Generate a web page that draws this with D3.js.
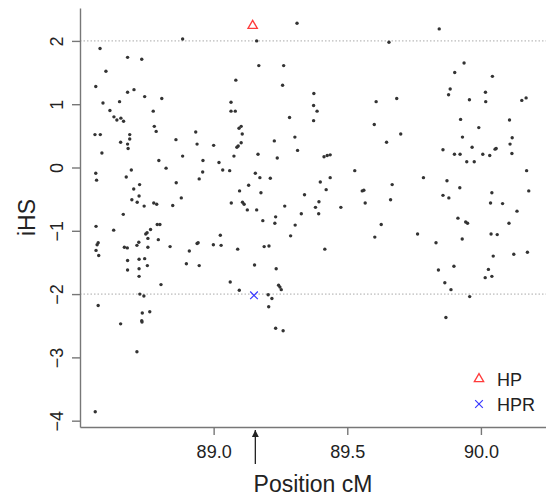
<!DOCTYPE html>
<html>
<head>
<meta charset="utf-8">
<script src="https://d3js.org/d3.v7.min.js"></script>
<style>
    body { margin: 0; background: #fff; }
    svg { display: block; font-family: "Liberation Sans", Arial, sans-serif; }
</style>
</head>
<body>
<div id="graph"></div>
<script>
// SNP positions (cM) and iHS scores
const positions = [
    88.884, 88.575, 88.678, 88.731, 88.597, 89.083, 88.559, 88.678, 88.702, 88.742,
    88.806, 88.586, 88.648, 89.065, 88.612, 88.774, 89.065, 89.081, 88.627, 88.638,
    88.653, 88.663, 88.778, 88.785, 89.095, 89.103, 88.556, 88.576, 88.686, 88.686,
    88.652, 88.678, 88.680, 88.933, 88.859, 88.938, 89.000, 89.092, 89.087, 88.582,
    88.884, 89.076, 88.795, 88.960, 89.020, 88.822, 89.034, 89.060, 88.959, 88.692,
    88.559, 88.673, 88.562, 88.946, 88.860, 88.723, 88.701, 89.097, 88.721, 88.694,
    88.714, 88.740, 88.776, 88.787, 88.847, 88.879, 89.066, 88.662, 88.560, 88.626,
    88.789, 88.799, 88.764, 88.746, 88.751, 88.754, 88.793, 88.568, 88.564, 88.560,
    88.570, 88.666, 88.677, 88.720, 88.713, 88.754, 88.837, 88.678, 88.721, 88.742,
    88.752, 88.678, 88.721, 88.721, 88.803, 88.898, 88.909, 88.938, 88.942, 88.946,
    88.999, 89.025, 89.028, 89.090, 89.062, 89.096, 88.724, 88.739, 88.568, 88.733,
    88.761, 88.731, 88.732, 88.652, 88.713, 88.557,
    89.312, 89.161, 89.656, 89.169, 89.262, 89.258, 89.375, 89.374, 89.387, 89.374,
    89.284, 89.608, 89.601, 89.647, 89.107, 89.103, 89.227, 89.304, 89.314, 89.166,
    89.238, 89.413, 89.425, 89.436, 89.156, 89.173, 89.212, 89.131, 89.177, 89.399,
    89.436, 89.421, 89.528, 89.340, 89.556, 89.562, 89.668, 89.662, 89.567, 89.108,
    89.114, 89.126, 89.161, 89.266, 89.394, 89.381, 89.476, 89.328, 89.393, 89.232,
    89.229, 89.184, 89.305, 89.288, 89.189, 89.207, 89.416, 89.603, 89.627, 89.153,
    89.234, 89.243, 89.248, 89.253, 89.204, 89.218, 89.206, 89.232, 89.260,
    89.844, 89.937, 89.902, 90.043, 89.885, 89.879, 90.017, 89.957, 90.018, 89.685,
    90.153, 90.169, 89.924, 90.107, 89.992, 89.700, 89.931, 90.117, 90.109, 89.967,
    90.053, 90.057, 89.858, 89.901, 89.922, 90.007, 90.033, 90.116, 89.947, 89.975,
    90.171, 89.785, 89.873, 89.921, 90.179, 89.858, 89.880, 90.041, 90.036, 90.081,
    90.135, 89.914, 89.943, 89.950, 90.105, 89.763, 90.038, 90.061, 89.832, 89.930,
    90.046, 90.123, 90.174, 89.841, 89.899, 90.028, 90.016, 90.041, 89.865, 89.888,
    89.958, 89.869
];
const ihs = [
    2.03, 1.88, 1.74, 1.71, 1.52, 1.38, 1.28, 1.19, 1.23, 1.12,
    1.09, 1.02, 1.04, 1.03, 0.90, 0.89, 0.89, 0.89, 0.80, 0.75,
    0.78, 0.73, 0.65, 0.57, 0.62, 0.65, 0.52, 0.52, 0.52, 0.45,
    0.40, 0.37, 0.30, 0.56, 0.44, 0.37, 0.35, 0.34, 0.32, 0.23,
    0.18, 0.18, 0.11, 0.11, 0.08, -0.01, -0.04, -0.05, -0.07, -0.04,
    -0.09, -0.15, -0.20, -0.18, -0.24, -0.27, -0.34, -0.37, -0.45, -0.51,
    -0.55, -0.61, -0.56, -0.58, -0.60, -0.48, -0.56, -0.74, -0.93, -0.99,
    -0.90, -0.90, -0.98, -1.05, -1.03, -1.12, -1.14, -1.19, -1.22, -1.31,
    -1.39, -1.26, -1.27, -1.18, -1.23, -1.26, -1.25, -1.47, -1.45, -1.44,
    -1.55, -1.62, -1.60, -1.72, -1.85, -1.52, -1.32, -1.20, -1.19, -1.55,
    -1.22, -1.07, -1.23, -1.29, -1.81, -1.94, -2.00, -2.03, -2.18, -2.30,
    -2.28, -2.42, -2.44, -2.47, -2.91, -3.86,
    2.28, 2.00, 1.98, 1.61, 1.61, 1.30, 1.17, 0.98, 0.89, 0.74,
    0.79, 1.04, 0.68, 0.40, 0.53, 0.39, 0.42, 0.48, 0.27, 0.21,
    0.15, 0.17, 0.19, 0.20, -0.09, -0.16, -0.17, -0.28, -0.40, -0.23,
    -0.16, -0.35, -0.05, -0.43, -0.37, -0.36, -0.27, -0.51, -0.56, -0.55,
    -0.58, -0.67, -0.67, -0.61, -0.54, -0.63, -0.63, -0.73, -0.73, -0.78,
    -0.88, -0.84, -0.91, -1.08, -1.25, -1.24, -1.29, -1.10, -0.90, -1.54,
    -1.60, -1.86, -1.89, -1.93, -2.01, -2.07, -2.20, -2.54, -2.58,
    2.19, 1.65, 1.50, 1.44, 1.24, 1.15, 1.19, 1.07, 1.04, 1.09,
    1.06, 1.10, 0.76, 0.75, 0.63, 0.53, 0.48, 0.47, 0.37, 0.32,
    0.29, 0.30, 0.28, 0.21, 0.21, 0.21, 0.19, 0.22, 0.09, 0.09,
    -0.05, -0.16, -0.21, -0.32, -0.37, -0.44, -0.48, -0.40, -0.56, -0.57,
    -0.69, -0.80, -0.86, -0.88, -0.88, -1.05, -1.05, -1.06, -1.19, -1.13,
    -1.40, -1.37, -1.34, -1.62, -1.56, -1.61, -1.74, -1.72, -1.82, -1.93,
    -2.04, -2.37
];

// highlighted SNPs
const hp = [{pos: 89.146, ihs: 2.24}];
const hpr = [{pos: 89.151, ihs: -2.02}];
const arrowPos = 89.156;

const xTicks = [89.0, 89.5, 90.0];
const yTicks = [-4, -3, -2, -1, 0, 1, 2];
const thresholds = [2, -2];
const legendItems = ['HP', 'HPR'];

let width = 546;
let height = 500;

let svg = d3.select('#graph').append('svg')
    .attr('width', width)
    .attr('height', height);

let x = d3.scaleLinear().domain([88.5, 90.2435]).range([80, 546]);
let y = d3.scaleLinear().domain([-4.10, 2.52]).range([427, 8]);

let points = positions.map((p, i) => ({pos: p, ihs: ihs[i]}));

// dotted threshold lines
svg.selectAll('line.thr')
    .data(thresholds)
    .enter().append('line')
    .attr('class', 'thr')
    .attr('x1', x.range()[0])
    .attr('x2', x.range()[1])
    .attr('y1', d => y(d))
    .attr('y2', d => y(d))
    .attr('stroke', '#aaa')
    .attr('stroke-width', 1)
    .attr('stroke-dasharray', '1.5,2');

// axes
let xAxis = svg.append('g')
    .attr('transform', 'translate(0,' + y.range()[0] + ')')
    .call(d3.axisBottom(x).tickValues(xTicks).tickFormat(d3.format('.1f')).tickSize(8).tickSizeOuter(0));

xAxis.selectAll('text')
    .attr('y', 31)
    .attr('dy', 0)
    .attr('font-size', 18)
    .attr('fill', '#222');

let yAxis = svg.append('g')
    .attr('transform', 'translate(' + x.range()[0] + ',0)')
    .call(d3.axisLeft(y).tickValues(yTicks).tickFormat(d3.format('d')).tickSize(8).tickSizeOuter(0));

yAxis.selectAll('text')
    .attr('x', 0)
    .attr('dy', 0)
    .attr('text-anchor', 'middle')
    .attr('transform', 'translate(-17,0) rotate(-90)')
    .attr('font-size', 18)
    .attr('fill', '#222')
    .text(d => d < 0 ? '\u2212' + Math.abs(d) : d);

svg.selectAll('.domain, .tick line')
    .attr('stroke', '#777')
    .attr('stroke-width', 1.4);

svg.selectAll('.tick text').attr('font-family', '"Liberation Sans", Arial, sans-serif');

// axis titles
svg.append('text')
    .attr('x', (x.range()[0] + x.range()[1]) / 2)
    .attr('y', 492)
    .attr('text-anchor', 'middle')
    .attr('font-size', 23)
    .attr('fill', '#222')
    .text('Position cM');

svg.append('text')
    .attr('transform', 'translate(35,' + ((y.range()[0] + y.range()[1]) / 2) + ') rotate(-90)')
    .attr('text-anchor', 'middle')
    .attr('font-size', 23)
    .attr('fill', '#222')
    .text('iHS');

// snp points
svg.selectAll('circle.snp')
    .data(points)
    .enter().append('circle')
    .attr('class', 'snp')
    .attr('cx', d => x(d.pos))
    .attr('cy', d => y(d.ihs))
    .attr('r', 1.7)
    .attr('fill', '#333');

let triangle = d3.symbol().type(d3.symbolTriangle).size(38);
let cross = d3.symbol().type(d3.symbolTimes).size(40);

svg.selectAll('path.hp')
    .data(hp)
    .enter().append('path')
    .attr('class', 'hp')
    .attr('d', triangle)
    .attr('transform', d => 'translate(' + x(d.pos) + ',' + y(d.ihs) + ')')
    .attr('fill', 'none')
    .attr('stroke', '#ff3b3b')
    .attr('stroke-width', 1.3);

svg.selectAll('path.hpr')
    .data(hpr)
    .enter().append('path')
    .attr('class', 'hpr')
    .attr('d', cross)
    .attr('transform', d => 'translate(' + x(d.pos) + ',' + y(d.ihs) + ')')
    .attr('fill', 'none')
    .attr('stroke', '#3b3bff')
    .attr('stroke-width', 1.2);

// arrow under the axis
svg.append('defs').append('marker')
    .attr('id', 'head')
    .attr('viewBox', '0 0 10 10')
    .attr('refX', 10)
    .attr('refY', 5)
    .attr('markerWidth', 7)
    .attr('markerHeight', 7)
    .attr('markerUnits', 'userSpaceOnUse')
    .attr('orient', 'auto')
    .append('path')
    .attr('d', 'M0,0L10,5L0,10z')
    .attr('fill', '#222');

svg.append('line')
    .attr('x1', x(arrowPos))
    .attr('x2', x(arrowPos))
    .attr('y1', 464)
    .attr('y2', 430)
    .attr('stroke', '#222')
    .attr('stroke-width', 1.3)
    .attr('marker-end', 'url(#head)');

// legend
let legend = svg.append('g').attr('transform', 'translate(479,379)');

legend.append('path')
    .attr('d', triangle)
    .attr('fill', 'none')
    .attr('stroke', '#ff3b3b')
    .attr('stroke-width', 1.3);

legend.append('path')
    .attr('d', cross)
    .attr('transform', 'translate(0,25)')
    .attr('fill', 'none')
    .attr('stroke', '#3b3bff')
    .attr('stroke-width', 1.2);

legend.selectAll('text')
    .data(legendItems)
    .enter().append('text')
    .attr('x', 18)
    .attr('y', (d, i) => i * 25 + 7)
    .attr('font-size', 18)
    .attr('fill', '#222')
    .text(d => d);
</script>
</body>
</html>
